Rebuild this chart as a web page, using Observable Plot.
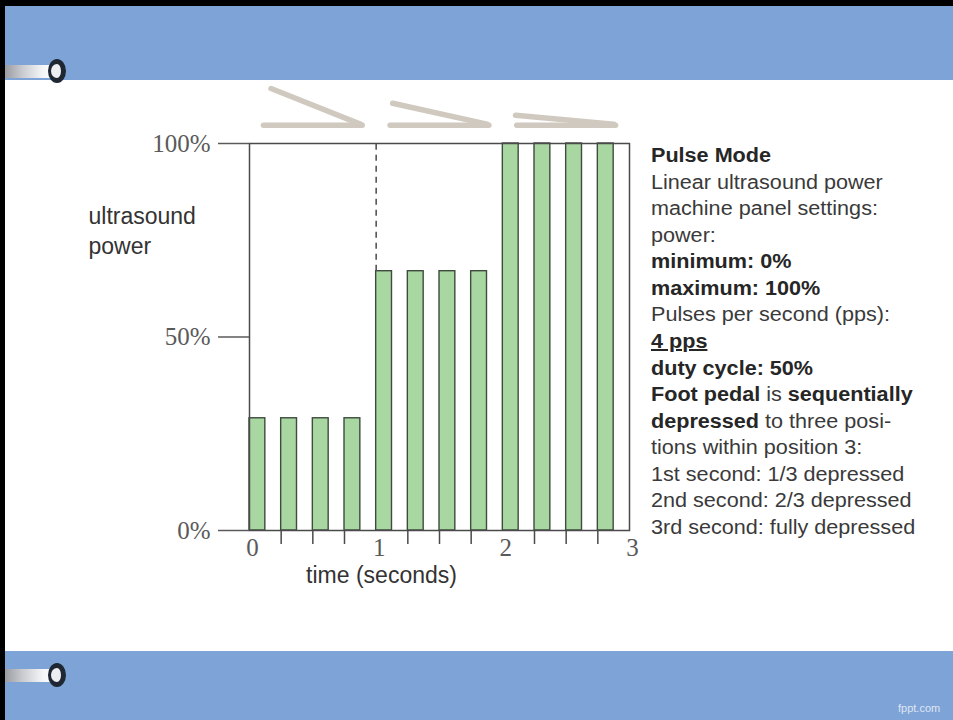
<!DOCTYPE html>
<html>
<head>
<meta charset="utf-8">
<script src="https://cdn.jsdelivr.net/npm/d3@7"></script>
<script src="https://cdn.jsdelivr.net/npm/@observablehq/plot@0.6"></script>
<style>
  html, body { margin: 0; padding: 0; background: #fff; }
  #page { position: relative; width: 953px; height: 720px; overflow: hidden; background: #fff;
          font-family: "Liberation Sans", Arial, Helvetica, sans-serif; }
  .band { position: absolute; left: 0; width: 953px; background: #7ea3d6; }
  .edgeTop { position: absolute; left: 0; top: 0; width: 953px; height: 6px; background: #000; }
  .edgeLeft { position: absolute; left: 0; top: 0; width: 5px; height: 720px; background: #000; }
  .cyl { position: absolute; left: 5px; width: 50px; height: 13px;
         background: linear-gradient(to right, #9a9ca2 0%, #c9cbd0 35%, #f4f5f7 75%, #ffffff 100%); }
  .ring { position: absolute; box-sizing: border-box; width: 18px; height: 24px; border-radius: 50%;
          border: 5px solid #1f2733; border-left-width: 3px; background: #eceef1; }
  #chart { position: absolute; left: 0; top: 80px; }
  #notes { position: absolute; left: 651px; top: 142px; font-size: 20px; line-height: 26.57px;
           color: #3a3a3a; white-space: nowrap; transform: scaleX(1.08); transform-origin: 0 0; }
  #notes b { color: #262626; }
  #wm { position: absolute; left: 898px; top: 702px; font-size: 11px; color: rgba(255,255,255,0.75); }
</style>
</head>
<body>
<div id="page">
  <div class="band" style="top:6px;height:74px;"></div>
  <div class="band" style="top:651px;height:69px;"></div>
  <div class="edgeTop"></div>
  <div class="edgeLeft"></div>
  <div class="cyl" style="top:65px;"></div>
  <div class="ring" style="left:48px;top:59px;"></div>
  <div class="cyl" style="top:669px;"></div>
  <div class="ring" style="left:48px;top:663px;"></div>
  <div id="wm">fppt.com</div>
  <div id="chart"></div>
  <div id="notes">
    <div><b>Pulse Mode</b></div>
    <div>Linear ultrasound power</div>
    <div>machine panel settings:</div>
    <div>power:</div>
    <div><b>minimum: 0%</b></div>
    <div><b>maximum: 100%</b></div>
    <div>Pulses per second (pps):</div>
    <div><b><u>4 pps</u></b></div>
    <div><b>duty cycle: 50%</b></div>
    <div><b>Foot pedal</b> is <b>sequentially</b></div>
    <div><b>depressed</b> to three posi-</div>
    <div>tions within position 3:</div>
    <div>1st second: 1/3 depressed</div>
    <div>2nd second: 2/3 depressed</div>
    <div>3rd second: fully depressed</div>
  </div>
</div>
<script>
// ---- data ----
const pulseStart = [0, 0.25, 0.5, 0.75, 1, 1.25, 1.5, 1.75, 2, 2.25, 2.5, 2.75]; // seconds
const powerPct   = [29, 29, 29, 29, 67, 67, 67, 67, 100, 100, 100, 100];         // % power
const pulseWidth = 0.125;  // 4 pps at 50% duty cycle
const yTicks = [0, 50, 100];
const yTickLabels = ["0%", "50%", "100%"];
const xLabelTicks = [0, 1, 2, 3];
const xMinorTicks = [0.25, 0.5, 0.75, 1.25, 1.5, 1.75, 2.25, 2.5, 2.75];
const pedalSecond = [0, 1, 2];
const pedalOpening = [9.5, 5.7, 2.6];   // wedge opening above chart (in % units)
const yAxisTitle = "ultrasound\npower";
const xAxisTitle = "time (seconds)";

// ---- tables built from the arrays ----
const bars = pulseStart.map((t, i) => ({t, t2: t + pulseWidth, y0: 0, p: powerPct[i]}));
const wedgeBase = 104.7;
const upperStart = [0.17, 0.13, 0.10];
const wedgeLower = pedalSecond.map((s) => ({x1: s + 0.11, x2: s + 0.89, y1: wedgeBase, y2: wedgeBase}));
const wedgeUpper = pedalSecond.map((s, i) => ({x1: s + upperStart[i], x2: s + 0.875,
                                               y1: wedgeBase + pedalOpening[i], y2: wedgeBase + 0.3}));

const serif = "'Liberation Serif', 'Times New Roman', 'DejaVu Serif', serif";
const sans = "'Liberation Sans', Arial, Helvetica, sans-serif";
const ink = "#4a4a4a";

const chart = Plot.plot({
  width: 953,
  height: 571,
  marginLeft: 249,
  marginRight: 324,
  marginTop: 63,
  marginBottom: 121,
  x: {domain: [0, 3]},
  y: {domain: [0, 100]},
  style: {background: "transparent", overflow: "visible"},
  marks: [
    // pedal wedges
    Plot.link(wedgeLower, {x1: "x1", y1: "y1", x2: "x2", y2: "y2", stroke: "#d0c9c0", strokeWidth: 5.5, strokeLinecap: "round"}),
    Plot.link(wedgeUpper, {x1: "x1", y1: "y1", x2: "x2", y2: "y2", stroke: "#d0c9c0", strokeWidth: 5.5, strokeLinecap: "round"}),
    // pulses
    Plot.rect(bars, {x1: "t", x2: "t2", y1: "y0", y2: "p", fill: "#a9d7a2", stroke: "#3d4c3d", strokeWidth: 1.4}),
    Plot.frame({stroke: ink, strokeWidth: 1.5}),
    Plot.ruleX([1], {y1: powerPct[4], y2: 100, stroke: "#555", strokeWidth: 1.6, strokeDasharray: "6,5"}),
    // axes
    Plot.axisY({ticks: yTicks, tickSize: 31, tickPadding: 8,
                tickFormat: (d) => yTickLabels[yTicks.indexOf(d)],
                fontSize: 25, fontFamily: serif, color: "#5a5a5a", strokeWidth: 1.5, label: null}),
    Plot.axisX({ticks: xMinorTicks, tickSize: 14, tickFormat: () => "", color: ink, strokeWidth: 1.5, label: null}),
    Plot.axisX({ticks: xLabelTicks, tickSize: 0, tickPadding: 8, tickFormat: (d) => String(d),
                fontSize: 25, fontFamily: serif, color: "#5a5a5a", dx: 3, label: null}),
    // titles
    Plot.text([yAxisTitle], {text: (d) => d, frameAnchor: "top-left", textAnchor: "start", lineAnchor: "top",
                              dx: -161, dy: 59, fontSize: 23, lineHeight: 1.3, fontFamily: sans, fill: "#333"}),
    Plot.text([xAxisTitle], {text: (d) => d, frameAnchor: "bottom-left", textAnchor: "middle", lineAnchor: "top",
                              dx: 132, dy: 36.5, fontSize: 23, fontFamily: sans, fill: "#333"})
  ]
});
document.getElementById("chart").appendChild(chart);
</script>
</body>
</html>
